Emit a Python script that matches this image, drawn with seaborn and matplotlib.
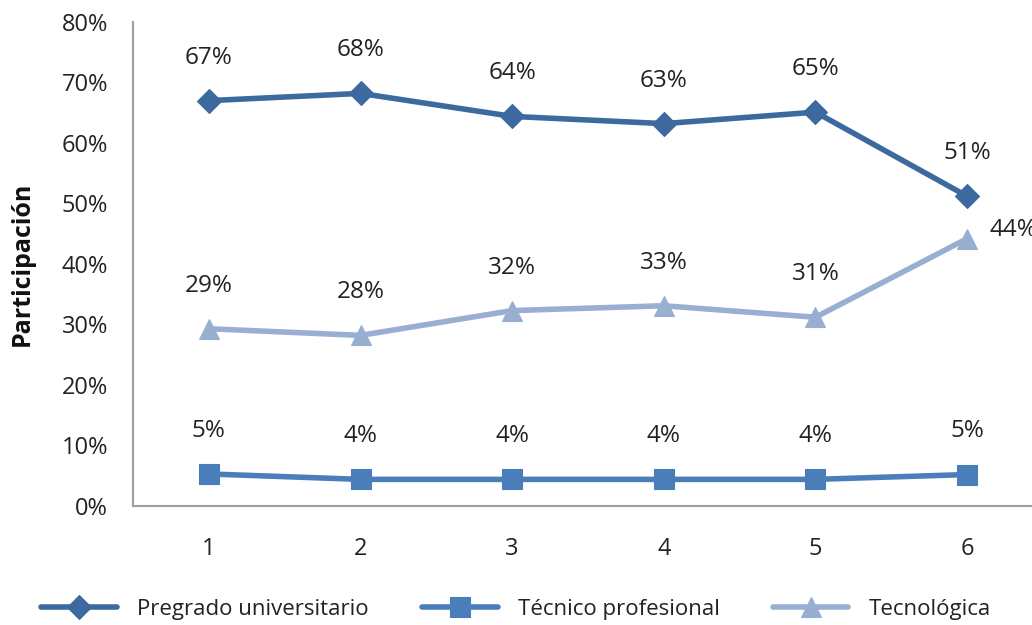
import numpy as np
import pandas as pd
import matplotlib
matplotlib.use("Agg")
import matplotlib.pyplot as plt
import seaborn as sns

# Participation share by period and type of program (%)
periods = [1, 2, 3, 4, 5, 6]
pregrado = [67.0, 68.2, 64.4, 63.2, 65.1, 51.2]
tecnico = [5.3, 4.4, 4.4, 4.4, 4.4, 5.2]
tecnologica = [29.3, 28.2, 32.3, 33.1, 31.2, 44.2]
series_names = ["Pregrado universitario", "Técnico profesional", "Tecnológica"]
y_ticks = [0, 10, 20, 30, 40, 50, 60, 70, 80]

colors = {"Pregrado universitario": "#3C6A9E",
          "Técnico profesional": "#4A7EBB",
          "Tecnológica": "#98AFD1"}
markers = {"Pregrado universitario": "D",
           "Técnico profesional": "s",
           "Tecnológica": "^"}
marker_sizes = {"Pregrado universitario": 12,
                "Técnico profesional": 14,
                "Tecnológica": 15}

df = pd.DataFrame({
    "periodo": periods * 3,
    "valor": pregrado + tecnico + tecnologica,
    "serie": [s for s in series_names for _ in periods],
})

sns.set_theme(style="white")
plt.rcParams["font.family"] = ["Open Sans", "DejaVu Sans"]

fig = plt.figure(figsize=(10.32, 6.25), dpi=100)
ax = fig.add_axes([133 / 1032, 1 - 506 / 625, (1043 - 133) / 1032, (506 - 22) / 625])

for name in series_names:
    sub = df[df["serie"] == name]
    sns.lineplot(data=sub, x="periodo", y="valor", ax=ax, color=colors[name],
                 linewidth=4, marker=markers[name], markersize=marker_sizes[name],
                 markeredgewidth=0.8, markeredgecolor=colors[name],
                 label=name, legend=False)

# value labels
for name in series_names:
    sub = df[df["serie"] == name]
    for x, v in zip(sub["periodo"], sub["valor"]):
        txt = f"{v:.0f}%"
        if name == "Tecnológica" and x == 6:
            ax.annotate(txt, (x, v), xytext=(33, 6), textcoords="offset points",
                        ha="center", va="center", fontsize=17.5, color="#222222")
        else:
            ax.annotate(txt, (x, v), xytext=(0, 31), textcoords="offset points",
                        ha="center", va="center", fontsize=17.5, color="#222222")

ax.set_xlim(0.5, 6.5)
ax.set_ylim(0, 80)
ax.set_xticks(periods)
ax.set_xticklabels([str(p) for p in periods])
ax.set_yticks(y_ticks)
ax.set_yticklabels([f"{t}%" for t in y_ticks])
ax.tick_params(axis="both", length=0, labelsize=17, colors="#222222")
ax.tick_params(axis="y", pad=18)
ax.tick_params(axis="x", pad=22)
ax.set_xlabel("")
ax.set_ylabel("Participación", fontsize=18, fontweight="bold", color="#111111", labelpad=19)

for side in ["top", "right"]:
    ax.spines[side].set_visible(False)
for side in ["left", "bottom"]:
    ax.spines[side].set_color("#A0A0A0")
    ax.spines[side].set_linewidth(1.5)

handles, labels = ax.get_legend_handles_labels()
fig.legend(handles, labels, loc="center", bbox_to_anchor=(0.5, 1 - 609 / 625),
           ncol=3, frameon=False, fontsize=16, handlelength=3.4,
           columnspacing=2.4, handletextpad=0.9, labelcolor="#222222")

fig.savefig("out.png", dpi=100)
